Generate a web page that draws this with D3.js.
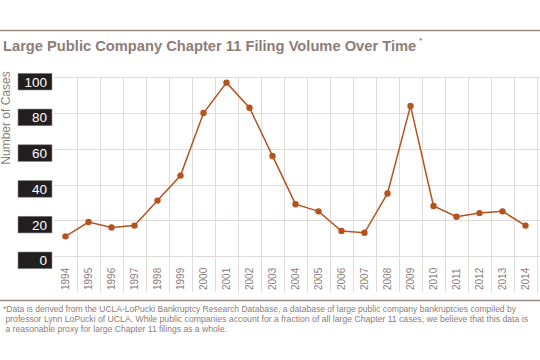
<!DOCTYPE html>
<html><head><meta charset="utf-8">
<script src="https://cdn.jsdelivr.net/npm/d3@7"></script>
<style>body{margin:0;background:#fff}svg{display:block}</style>
</head><body>
<script>
const years = ["1994","1995","1996","1997","1998","1999","2000","2001","2002","2003","2004","2005","2006","2007","2008","2009","2010","2011","2012","2013","2014"];
const cases = [11,19,16,17,31,45,80,97,83,56,29,25,14,13,35,84,28,22,24,25,17];
const yTicks = [0,20,40,60,80,100];
const title = "Large Public Company Chapter 11 Filing Volume Over Time";
const yTitle = "Number of Cases";
const footnote = [
  "*Data is derived from the UCLA-LoPucki Bankruptcy Research Database, a database of large public company bankruptcies compiled by",
  " professor Lynn LoPucki of UCLA. While public companies account for a fraction of all large Chapter 11 cases, we believe that this data is",
  " a reasonable proxy for large Chapter 11 filings as a whole."
];

const W = 540, H = 360;
const svg = d3.select("body").append("svg").attr("width", W).attr("height", H);
const font = "Liberation Sans, Arial, sans-serif";
const brown = "#8c7d79";

// rules
svg.append("line").attr("x1",0).attr("x2",W).attr("y1",30.5).attr("y2",30.5).attr("stroke","#9b8c88").attr("stroke-width",1.5);
svg.append("line").attr("x1",0).attr("x2",W).attr("y1",300.5).attr("y2",300.5).attr("stroke","#9b8c88").attr("stroke-width",1.5);

// title
const tt = svg.append("text").attr("x",3).attr("y",51).attr("font-family",font).attr("font-weight","bold")
  .attr("font-size",14.7).attr("fill",brown).text(title);
const tw = tt.node().getComputedTextLength();
svg.append("text").attr("x",3 + tw + 3).attr("y",43).attr("font-family",font).attr("font-weight","bold")
  .attr("font-size",7).attr("fill",brown).text("*");

const x = d3.scaleBand().domain(years).range([54, 54 + 23*years.length]).padding(0);
const y = d3.scaleLinear().domain([0,100]).range([256, 77.3]);

// gridlines
const g = svg.append("g");
g.selectAll("line.h").data(yTicks).join("line")
  .attr("x1",54).attr("x2",W).attr("y1",d=>Math.round(y(d))+0.5).attr("y2",d=>Math.round(y(d))+0.5)
  .attr("stroke","#e0dbdb").attr("stroke-width",1);
g.selectAll("line.v").data(years).join("line")
  .attr("x1",d=>Math.round(x(d) + x.bandwidth())+0.5)
  .attr("x2",d=>Math.round(x(d) + x.bandwidth())+0.5)
  .attr("y1",77).attr("y2",292)
  .attr("stroke","#e0dbdb").attr("stroke-width",1);

// y labels
const yl = svg.append("g");
yl.selectAll("rect").data(yTicks).join("rect")
  .attr("x",18).attr("width",34).attr("y",d=>y(d)-4).attr("height",16.7)
  .attr("fill","#231f20").attr("stroke","#8a8a8a").attr("stroke-width",0.6);
yl.selectAll("text").data(yTicks).join("text")
  .attr("x",47).attr("y",d=>y(d)+9.3).attr("text-anchor","end")
  .attr("font-family",font).attr("font-size",13.5).attr("fill","#fff").text(d=>d);

// y title
svg.append("text").attr("transform","translate(10,118) rotate(-90)").attr("text-anchor","middle")
  .attr("font-family",font).attr("font-size",12).attr("fill",brown).text(yTitle);

// x labels
svg.append("g").selectAll("text").data(years).join("text")
  .attr("transform",d=>`translate(${x(d)+x.bandwidth()/2+3.5},290) rotate(-90)`)
  .attr("font-family",font).attr("font-size",10).attr("fill",brown).text(d=>d);

// line
const cx = d=>x(d)+x.bandwidth()/2;
svg.append("path").datum(cases)
  .attr("d", d3.line().x((d,i)=>cx(years[i])).y(d=>y(d)))
  .attr("fill","none").attr("stroke","#b5531f").attr("stroke-width",1.5);
svg.append("g").selectAll("circle").data(cases).join("circle")
  .attr("cx",(d,i)=>cx(years[i])).attr("cy",d=>y(d)).attr("r",3.2).attr("fill","#b5531f");

// footnote
svg.append("g").selectAll("text").data(footnote).join("text")
  .attr("x",3).attr("y",(d,i)=>312 + i*10.2).attr("xml:space","preserve")
  .attr("font-family",font).attr("font-size",8.6).attr("fill",brown)
  .attr("textLength",(d,i)=> i===0 ? 513 : (i===1 ? 525 : null))
  .attr("lengthAdjust","spacingAndGlyphs")
  .text(d=>d);
</script>
</body></html>
